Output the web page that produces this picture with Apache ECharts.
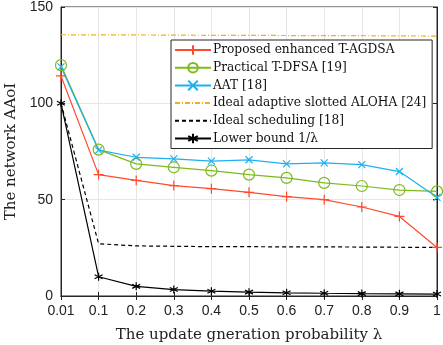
<!DOCTYPE html>
<html>
<head>
<meta charset="utf-8">
<script src="https://cdn.jsdelivr.net/npm/echarts@6/dist/echarts.min.js"></script>
<style>
html,body{margin:0;padding:0;background:#fff;}
#chart{width:443px;height:345px;}
</style>
</head>
<body>
<div id="chart"></div>
<script>
var lambdas = ['0.01','0.1','0.2','0.3','0.4','0.5','0.6','0.7','0.8','0.9','1'];
var proposed = [114.2, 63, 60, 57.3, 55.7, 53.8, 51.6, 50, 46.2, 41.3, 25.2];
var practical = [119.8, 76, 68.6, 66.8, 65.1, 63, 61.3, 58.7, 57.1, 55, 54.3];
var aat = [118.9, 75.7, 72, 71.2, 70, 70.7, 68.6, 69.1, 68.2, 64.6, 51.2];
var aloha = [135.6, 135.5, 135.5, 135.4, 135.3, 135.3, 135.2, 135.1, 135.1, 135, 134.9];
var idealSched = [100, 27.1, 26, 25.8, 25.6, 25.6, 25.5, 25.5, 25.4, 25.3, 25.2];
var lowerBound = [100, 10, 5, 3.33, 2.5, 2, 1.67, 1.43, 1.25, 1.11, 1];
var yTicks = [0, 50, 100, 150];

var serif = 'DejaVu Serif';
var plusSym = 'path://M5,0L5,10M0,5L10,5';
var crossSym = 'path://M0,0L10,10M0,10L10,0';
var starSym = 'path://M5,0L5,10M0.7,2.5L9.3,7.5M0.7,7.5L9.3,2.5';

function lineSeries(name, data, color, symbol, size, dash) {
    return {
        name: name,
        type: 'line',
        data: data,
        symbol: symbol,
        symbolSize: size,
        showSymbol: symbol !== 'none',
        lineStyle: {color: color, width: 1.2, type: dash || 'solid'},
        itemStyle: {color: 'rgba(0,0,0,0)', borderColor: color, borderWidth: 1.2},
        emphasis: {disabled: true},
        animation: false
    };
}

var chart = echarts.init(document.getElementById('chart'));
var option = {
    backgroundColor: '#fff',
    grid: {left: 61, right: 6, top: 7, bottom: 49, show: true, borderColor: '#262626', borderWidth: 1,
           containLabel: false, outerBoundsMode: 'none'},
    legend: {
        orient: 'vertical',
        left: 171,
        top: 40,
        padding: [4, 6, 4, 3],
        itemWidth: 36,
        itemHeight: 12,
        itemGap: 5.7,
        backgroundColor: '#fff',
        borderColor: '#262626',
        borderWidth: 1,
        textStyle: {fontFamily: serif, fontSize: 12.2, lineHeight: 12, color: '#111', padding: [0, 0, 0, -3]},
        data: [
            {name: 'Proposed enhanced T-AGDSA'},
            {name: 'Practical T-DFSA [19]'},
            {name: 'AAT [18]'},
            {name: 'Ideal adaptive slotted ALOHA [24]', itemStyle: {opacity: 0}},
            {name: 'Ideal scheduling [18]', itemStyle: {opacity: 0}},
            {name: 'Lower bound 1/\u03bb'}
        ]
    },
    xAxis: [{
        type: 'category',
        data: lambdas,
        boundaryGap: false,
        name: 'The update gneration probability \u03bb',
        nameLocation: 'middle',
        nameGap: 32,
        nameTextStyle: {fontFamily: serif, fontSize: 15, color: '#222'},
        axisLine: {lineStyle: {color: '#262626'}},
        axisTick: {inside: true, length: 4, lineStyle: {color: '#262626'}},
        axisLabel: {fontFamily: 'Liberation Sans', fontSize: 14, color: '#222', margin: 8},
        splitLine: {show: true, lineStyle: {color: '#e6e6e6'}}
    }, {
        type: 'category',
        data: lambdas,
        boundaryGap: false,
        position: 'top',
        axisLine: {lineStyle: {color: '#262626'}},
        axisTick: {inside: true, length: 4, lineStyle: {color: '#262626'}},
        axisLabel: {show: false}
    }],
    yAxis: [{
        type: 'value',
        min: yTicks[0],
        max: yTicks[yTicks.length - 1],
        interval: 50,
        name: 'The network AAoI',
        nameLocation: 'middle',
        nameGap: 40,
        nameTextStyle: {fontFamily: serif, fontSize: 15, color: '#222'},
        axisLine: {show: true, lineStyle: {color: '#262626'}},
        axisTick: {show: true, inside: true, length: 4, lineStyle: {color: '#262626'}},
        axisLabel: {fontFamily: 'Liberation Sans', fontSize: 14, color: '#222', margin: 8},
        splitLine: {show: true, lineStyle: {color: '#e6e6e6'}}
    }, {
        type: 'value',
        min: 0,
        max: 150,
        interval: 50,
        position: 'right',
        axisLine: {show: true, lineStyle: {color: '#262626'}},
        axisTick: {show: true, inside: true, length: 4, lineStyle: {color: '#262626'}},
        axisLabel: {show: false},
        splitLine: {show: false}
    }],
    series: [
        lineSeries('Ideal adaptive slotted ALOHA [24]', aloha, '#EDB120', 'none', 0, [5, 2, 1, 2]),
        lineSeries('Ideal scheduling [18]', idealSched, '#000', 'none', 0, [4, 3]),
        lineSeries('Lower bound 1/\u03bb', lowerBound, '#000', starSym, 8),
        lineSeries('Proposed enhanced T-AGDSA', proposed, '#FF4B2B', plusSym, 10),
        lineSeries('Practical T-DFSA [19]', practical, '#7DBA1C', 'circle', 11),
        lineSeries('AAT [18]', aat, '#1CB0F0', crossSym, 7)
    ]
};
chart.setOption(option);
</script>
</body>
</html>
